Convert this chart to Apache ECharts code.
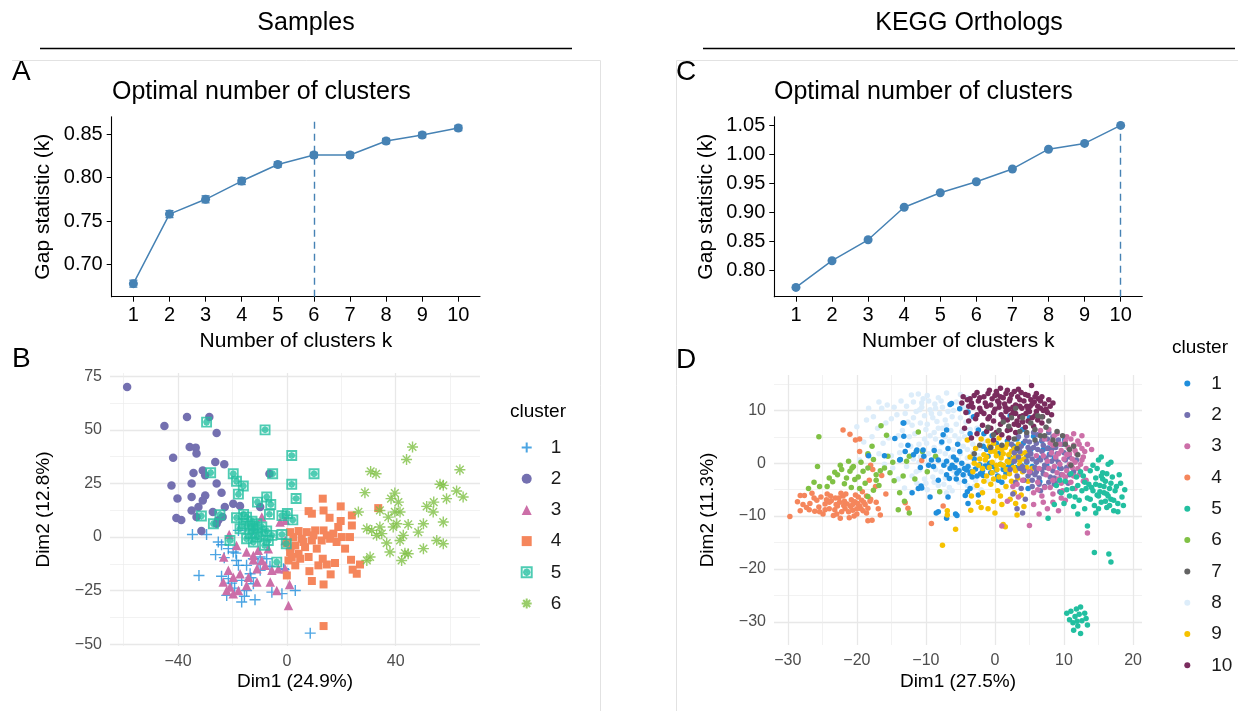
<!DOCTYPE html>
<html>
<head>
<meta charset="utf-8">
<script src="https://cdn.jsdelivr.net/npm/echarts@6/dist/echarts.min.js"></script>
<style>
  html, body { margin: 0; padding: 0; background: #fff; }
  #chart { width: 1238px; height: 711px; }
</style>
</head>
<body>
<div id="chart"></div>
<script>
'use strict';

// ---- gap statistic (panels A and C) ----
var kValues = [1, 2, 3, 4, 5, 6, 7, 8, 9, 10];
var gapSamples = [0.678, 0.758, 0.775, 0.796, 0.815, 0.826, 0.826, 0.842, 0.849, 0.857];
var seSamples = [0.004, 0.004, 0.004, 0.004, 0.003, 0.003, 0.003, 0.003, 0.003, 0.003];
var gapKO = [0.771, 0.817, 0.853, 0.909, 0.934, 0.953, 0.975, 1.009, 1.019, 1.050];
var optimalSamples = 6;
var optimalKO = 10;

var gapTicksSamples = [0.70, 0.75, 0.80, 0.85];
var gapTicksKO = [0.80, 0.85, 0.90, 0.95, 1.00, 1.05];

// ---- PCA of samples (panel B) ----
var samplesCluster1 = [[-34.7,1.2],[-29.5,1.2],[-25.2,-2.3],[-24,-3.6],[-21.5,-5.4],[-19.7,-7],[-26.2,-8.2],[-32.3,-17.9],[-24,-18.3],[-21.5,-19.4],[-18.5,-10.9],[-17.8,-13.2],[-14.8,-13.2],[-12.3,-10.1],[-9.8,-9.3],[-7.4,-10.1],[-13.5,-17.1],[-9.8,-15.5],[-16.6,-20.2],[-12.3,-21.8],[-22.1,-27.2],[-16.6,-30.3],[-11.7,-29.2],[-5.5,-25.7],[-1.8,-26.4],[3.1,-24.9],[-1,-15.2],[8.6,-44.8],[-17.8,3.1],[-12.3,3.4],[-18.7,-7.5],[-20.3,-21.5],[-14.8,-24.9],[-1.2,-14.8],[-15.6,-27.6],[-19.2,-23.8],[-10.6,-12.4],[-6.2,-13.6],[-23.0,-9.6],[-13.2,-19.0]];
var samplesCluster2 = [[-58.7,70],[-45,51.8],[-36.7,56],[-28.5,56],[-25.8,48.5],[-41.8,37],[-35.7,42],[-33.5,41.7],[-33.2,39],[-26.3,35],[-23,34],[-34.3,29.9],[-30.9,31],[-30,28.8],[-42.4,24],[-35,25],[-25.8,25],[-24,20.7],[-40.2,18],[-35,18.7],[-30,19.4],[-30.9,17],[-22.8,14],[-19.7,15.5],[-35,12.4],[-32.5,14],[-27.2,11.7],[-40.6,8.9],[-38.8,8],[-33.2,9.3],[-25.2,7.8],[-23.6,9.3],[-31.4,2.8],[-9.8,14],[-6.4,29.5],[-25.8,6.2],[-17.2,14.5]];
var samplesCluster3 = [[-21.2,1.2],[-9.2,9.3],[-2.5,7],[-23.2,-9.3],[-18.5,-3.9],[-14.8,-7],[-12.3,-8.6],[-10.5,-6.2],[-6.8,-5.4],[-21.5,-15.5],[-19.7,-18.7],[-17.2,-17.1],[-14.1,-18.7],[-11,-14.8],[-8,-13.2],[-5.5,-15.5],[-3.1,-14.8],[-23.4,-21],[-20.9,-23.3],[-17.8,-24.9],[-14.8,-22.6],[-11,-21],[-6.1,-21],[-3.7,-24.9],[0.6,-31.9],[-0.6,-1.6],[-19.7,-26.4],[-22.1,-24.9],[-12.3,-10.6],[-9.2,-10.9],[1.2,-3.9],[-0.6,-14.8],[1,-22.1],[-0.6,7.8]];
var samplesCluster4 = [[13.2,17.9],[19.8,14.3],[8,12.1],[9.2,10.9],[13.5,12.4],[15.7,9],[23.9,10.1],[19.8,7.5],[23.9,5.4],[18.9,4.7],[33.6,13.5],[1.2,2.3],[4.3,2.8],[7.3,2.3],[10.4,3.1],[13.5,3.1],[17.1,1.6],[2.4,0],[5.5,-0.8],[9.2,-1.6],[12.8,-1.6],[15.9,-0.8],[20.2,0],[23.2,0],[0,-2.8],[3.1,-3.9],[6.7,-4.7],[11,-5.4],[21.4,-5.4],[1.2,-7],[4.3,-7.8],[4.9,-10.1],[0.6,-10.9],[3.1,-13.2],[11.6,-13.2],[14.7,-12.8],[17.7,-12.1],[13.2,-10.1],[23.6,-10.6],[26.9,-12.8],[24.2,-15.2],[25.7,-17.1],[8.3,-15.9],[16.1,-17.4],[9.2,-20.5],[13.5,-22.1],[0,-17.9],[13.5,-41.5],[6.1,-2.3],[9.8,0.8],[14.7,0.8],[18.3,-2.3],[1.8,-9.3],[8,-9.3]];
var samplesCluster5 = [[-29.5,53.6],[-8,50],[1.8,38],[1.8,24.6],[3.4,18],[10,29.5],[-28,30],[-19.7,29.5],[-18.5,26],[-16,23.8],[-17.8,20],[-5.2,29.5],[-10.8,16.3],[-7.4,18.7],[-5.9,15.2],[-6.4,10.6],[-1.8,10],[0.2,11],[2.2,8],[-31.4,9.8],[-27,6.2],[-24.6,10.4],[-18.5,9],[-15.9,10.6],[-14.8,9.3],[-15.9,6.2],[-13.5,5.1],[-12.3,3.9],[-11,6.2],[-9.2,4.7],[-7.4,2.8],[-5.5,0.8],[-1.8,1.2],[-13.5,1.6],[-11,0],[-6.8,-1.6],[-20.9,-1.6],[-12.3,-2.3],[-14.8,-0.8],[-3.7,-11.7],[-0.2,-3.1],[-17.2,3.9],[-9.6,1.2],[-8.2,-3.8],[-12.8,7.4]];
var samplesCluster6 = [[46.2,42],[44,36.2],[63.6,31.4],[30.8,30.6],[32.8,29.5],[28.7,20.7],[39.7,20.5],[38.3,17.9],[41,16.3],[26.3,11.7],[34.2,12.4],[39.7,11.7],[37.3,9.3],[40.4,6.2],[44.6,5.9],[48.3,2.3],[51.4,14.3],[54,16.3],[53.8,11.7],[57.5,24.1],[56.3,24.6],[62.4,21.5],[64.8,18.7],[58.7,17.9],[57.5,7],[50.2,6.2],[29.4,3.9],[31.2,3.1],[33,0.8],[34.9,1.6],[36.7,-2.8],[37.9,-7],[41.6,-1.6],[42.8,0.8],[43.4,-7.5],[42.2,-10.9],[44.6,-7.8],[50.2,-5.4],[55.1,-1.6],[57.5,-3.1],[30.6,-9.3],[29.4,-10.9],[34.2,4.7],[39.1,4.7],[41.6,11.7]];

// ---- PCA of KEGG orthologs (panel D) ----
var koCluster1 = [[-13.2,7.6],[-14.5,4.7],[-13.0,2.2],[-13.8,0.6],[-11.4,2.2],[-10.4,2.5],[-9.2,0.6],[-8.9,-0.6],[-7.7,4.0],[-6.5,11.1],[-6.0,1.2],[-5.1,2.2],[-4.8,0],[-4.1,-1.3],[-5.5,-1.9],[-6.5,-1.0],[-7.0,-2.2],[-3.4,-1.6],[-2.2,-0.3],[-0.8,0],[0.2,-1.3],[1.2,-0.6],[2.4,0],[3.6,0.6],[4.6,1.3],[2.7,3.2],[4.1,3.8],[5.6,5.1],[0.2,3.8],[-1,1.3],[-1.7,3.2],[-2.4,6.3],[-3.1,8.8],[-3.9,9.7],[-5.1,10.3],[-7.0,6.3],[-7.5,5.4],[-8.2,-9.2],[-5.5,-9.9],[-11.1,-4.8],[-10.7,-4.3],[-3.6,-4.8],[-4.3,-6.1],[-1.7,-2.3],[0.5,-3.2],[4.8,-4.8],[6.5,-3.5],[7.5,-0.3],[9.4,-0.9],[10.1,4.4],[7.7,2.9],[6.0,0.3],[-6.8,-6.4],[-18.3,1.4],[-16,1.4],[-13.7,0.7],[-11.3,2.5],[-10.3,1.3],[-8.2,0.6],[-8.2,-3.2],[-10.6,-4.7],[-8.5,-9.4],[-7.0,-10.4],[-5.7,-9.6],[-3.9,-7.6],[-6.3,11.3],[-13.3,7.6],[-13.2,5.1],[-5.8,-0.8],[-5.2,-1.4],[-4.6,-2.2],[-3.9,-0.6],[-3.3,-2.6],[-2.8,-1.1],[-2.1,-2.0],[-1.4,-0.5],[-0.6,-1.8],[0.8,-0.2],[1.6,-1.9],[2.2,1.1],[3.0,-0.8],[-6.6,-2.9],[-7.4,-0.4],[-4.4,-3.4],[-3.0,0.8],[5.2,2.6],[6.8,4.2],[7.9,1.7],[3.5,2.4],[-1.2,2.6],[0.6,1.9],
    [-9.6,-0.4],[-10.8,-0.8],[-11.8,1.6],[-12.6,3.4],[-8.8,2.4],[-7.0,0.4],[-6.2,-0.4],[-5.6,0.6],[-4.4,-1.0],[-3.6,-2.0],[-2.6,-2.4],[-1.8,-1.4],[-1.0,-0.8],[-0.2,-0.6],[0.4,-2.4],[1.2,-1.2],[2.0,-0.6],[2.8,0.6],[3.8,-0.4],[4.6,0.2],[5.4,-0.6],[6.4,1.0],[7.0,2.6],[8.6,1.0],[3.2,4.6],[1.8,4.2],[-0.4,5.2],[-1.6,5.6],[-3.6,5.6],[-5.4,3.6],[-6.8,2.8],[-5.6,-3.0],[-4.0,-5.4],[-2.4,-6.0],[1.0,-3.6],[-9.4,-6.4],[-12.0,-5.6],[4.0,6.4],[5.0,8.6],[2.2,9.0]];
var koCluster2 = [[2.4,3.6],[2.8,0.4],[3.2,-2.4],[3.6,2.2],[4.0,-0.6],[4.4,4.2],[4.8,1.4],[5.2,-1.8],[5.6,3.0],[6.0,0.2],[6.4,-2.8],[6.8,2.2],[7.2,-0.4],[7.6,4.6],[8.0,1.6],[8.4,-1.4],[8.8,3.0],[9.2,0.2],[9.6,-2.2],[10.0,2.0],[10.4,-0.8],[10.8,1.2],[11.4,-1.6],[6.2,5.4],[7.8,5.8],[4.6,5.2],[5.4,-4.4],[6.6,-5.2],[3.8,-4.8],[4.4,-6.8],[2.6,-5.8],[3.2,-8.6],[4.0,-9.4],[7.2,-4.4],[8.6,-4.0],[9.4,-5.4],[4.2,-3.2],[5.8,-0.8],[6.8,-1.2],[7.4,1.0],[5.0,2.4],[8.2,2.6],[3.4,1.2],[2.2,-1.2],[9.8,3.6],[6.0,3.8],[7.0,3.4],[4.8,-2.4],[8.0,-2.6],[5.4,0.8],[9.0,-3.2],[10.6,-3.8],[3.0,-3.6],[11.8,0.6],
    [3.8,3.2],[4.6,0.4],[5.2,1.8],[5.8,-2.2],[6.2,2.6],[6.6,0.6],[7.0,-2.0],[7.6,2.8],[8.2,0.4],[8.6,-2.8],[9.0,1.8],[9.6,-1.0],[10.2,0.6],[5.0,4.0],[6.8,4.4],[8.4,5.0],[4.2,-1.4],[5.4,-3.2],[6.4,-4.0],[7.8,-3.6],[3.6,-1.0],[4.8,3.0],[6.0,-1.6],[7.4,-0.8],[8.8,0.8],[10.8,-2.2],[2.8,2.0],[3.4,5.0],[9.2,4.4],[5.6,5.8]];
var koCluster3 = [[2.6,-4.4],[3.4,-6.4],[4.0,-3.2],[5.0,-1.6],[5.6,-5.6],[6.2,-3.6],[6.8,-6.2],[7.4,-2.2],[8.0,-4.6],[8.6,-0.6],[9.2,-3.0],[9.8,-5.2],[10.4,-1.4],[11.0,-3.6],[11.6,0.2],[12.2,-2.2],[12.8,1.2],[13.2,-1.0],[14.0,2.6],[6.6,6.2],[7.2,4.6],[7.8,6.4],[8.4,3.4],[9.0,5.6],[9.6,2.4],[10.2,4.2],[10.8,1.8],[11.4,3.4],[12.0,4.2],[12.6,2.8],[13.4,3.6],[8.8,1.2],[9.4,-0.2],[10.0,0.8],[11.2,-0.8],[12.4,-0.2],[7.6,0.4],[8.2,2.0],[10.6,3.0],[11.8,1.8],[9.8,-2.2],[8.4,-7.4],[7.0,-7.4],[5.6,-7.8],[10.2,-7.0],[9.2,-9.0],[1.0,-11.9],[5.0,-11.8],[13.4,-13.2],[13.2,-3.2],[3.2,-4.0],[1.8,-7.2],[12.6,5.2],[6.0,1.4],[11.4,5.6],
    [6.4,-1.0],[7.2,-4.6],[7.8,-1.0],[8.4,-3.2],[9.0,-1.8],[9.6,-3.8],[10.2,-2.6],[10.8,-0.2],[11.4,-2.4],[12.0,-1.0],[12.6,0.6],[8.0,3.8],[8.6,5.2],[9.4,3.6],[10.4,5.0],[11.0,4.6],[11.6,2.4],[12.2,3.6],[13.0,2.2],[9.2,1.8],[10.4,1.6],[11.2,0.8],[7.0,1.4],[8.4,-5.8],[9.6,-6.6],[6.2,-5.0],[11.6,-4.8],[12.8,-3.4],[7.6,-8.6],[6.4,-9.6]];
var koCluster4 = [[-29.7,-10.1],[-28.6,-7.3],[-28.2,-6.1],[-27.6,-6.1],[-27.3,-8.4],[-26.8,-7.6],[-26.5,-5.7],[-26.1,-9.1],[-25.8,-7.0],[-25.5,-8.3],[-25.2,-6.4],[-24.9,-9.6],[-24.6,-7.7],[-24.3,-5.8],[-24.0,-8.6],[-23.7,-7.1],[-23.4,-9.9],[-23.1,-6.6],[-22.8,-8.1],[-22.5,-7.4],[-22.2,-9.2],[-22.0,-6.2],[-21.7,-8.6],[-21.4,-7.7],[-21.1,-10.3],[-20.8,-6.9],[-20.6,-8.9],[-20.3,-7.3],[-20.0,-9.6],[-19.8,-6.4],[-19.6,-8.1],[-19.3,-7.0],[-19.1,-9.0],[-18.8,-7.8],[-18.6,-6.2],[-18.4,-8.5],[-18.1,-7.2],[-17.8,-10.8],[-18.4,-10.9],[-21.9,-8.0],[-23.0,-7.8],[-20.9,-8.2],[-24.4,-6.9],[-22.3,-5.7],[-19.9,-7.6],[-26.9,-8.8],[-22,6.3],[-21,5.5],[-20.2,4.4],[-19.6,4.6],[-19.6,2.2],[-18.4,1.5],[-18,-0.4],[-17.7,-1.2],[-16.4,-2.3],[-18.2,-3.2],[-17.3,-4.4],[-15.8,-5.8],[-16.9,-8.6],[-12.6,-8.5],[-13.0,-7.5],[-9.2,-11.4],[-10.6,0.5],[-7.5,-8.1],
    [-24.0,-7.4],[-23.2,-8.8],[-22.6,-6.6],[-21.8,-7.2],[-21.2,-9.2],[-20.6,-7.8],[-20.2,-6.0],[-19.4,-8.6],[-19.0,-7.4],[-18.6,-9.4],[-22.4,-10.4],[-25.4,-9.2],[-26.2,-6.6],[-27.8,-7.8],[-28.2,-9.0],[-23.8,-6.2],[-22.9,-9.6],[-20.4,-10.0],[-18.0,-6.8],[-21.6,-5.8],[-19.2,-5.4],[-24.6,-8.8],[-17.2,-7.4],[-16.6,-9.8],[-20.0,-8.6]];
var koCluster5 = [[8.9,-4.2],[9.6,-5.6],[10.2,-3.4],[10.8,-6.2],[11.2,-4.8],[11.8,-2.6],[12.2,-7.0],[12.6,-5.2],[13.0,-3.6],[13.4,-6.6],[13.8,-1.4],[14.0,-4.6],[14.4,-8.0],[14.6,-2.8],[14.8,-6.0],[15.0,0.6],[15.2,-4.2],[15.4,-7.4],[15.6,-1.8],[15.8,-5.6],[16.0,-3.4],[16.2,-8.4],[16.4,-0.2],[16.6,-4.8],[16.8,-6.8],[17.0,-2.6],[17.4,-5.2],[17.8,-7.6],[18.2,-3.8],[18.8,-5.0],[14.2,-5.2],[15.0,-6.2],[15.6,-3.0],[16.2,-5.8],[13.6,-4.0],[12.4,-1.6],[11.4,-8.2],[10.0,-7.6],[8.6,-7.8],[7.7,-10.4],[13.4,-11.9],[14.4,-16.9],[16.5,-17.2],[16.8,-18.7],[12.0,-9.6],[17.2,-9.0],
    [14.6,-4.0],[15.2,-5.4],[15.8,-4.4],[16.4,-6.2],[16.0,-7.2],[15.4,-2.4],[14.8,-1.0],[16.8,-3.8],[17.2,-7.0],[17.6,-4.4],[18.4,-6.4],[18.0,-2.2],[16.2,-2.0],[15.0,-8.6],[13.8,-6.8],[13.2,-4.8],[12.8,-2.4],[12.0,-4.2],[11.0,-2.0],[10.4,-5.0],[9.4,-3.2],[14.2,-0.4],[16.8,0.2],[15.4,1.2],[17.8,-9.2],[16.6,-8.0],[13.0,-8.6],[11.6,-6.4],[18.6,-8.0],[14.6,-9.4],
    [10.4,-28.4],[10.8,-29.6],[11.0,-28.0],[11.3,-30.2],[11.6,-29.0],[11.8,-27.6],[12.0,-30.8],[12.2,-28.6],[12.4,-27.2],[12.6,-29.8],[13.0,-28.4],[13.4,-30.6],[13.2,-29.4],[11.4,-31.6],[12.4,-32.2],[11.9,-29.9]];
var koCluster6 = [[-25.5,5.0],[-25.7,-0.6],[-27,-4.8],[-25.4,-4.4],[-24.3,-4.4],[-23.5,-3.5],[-23.2,-1.7],[-22.2,-1.2],[-21,-1.5],[-21.5,-2.8],[-20.3,-3.1],[-20.5,-0.6],[-19.1,-1.5],[-18.4,1.8],[-18.4,-0.9],[-17.2,-2.2],[-17.6,0.7],[-17.2,-3.2],[-16,-0.9],[-15.7,5.3],[-15.5,1.3],[-17.6,-5.1],[-19.6,-4.8],[-18.4,-6.3],[-16.5,7.1],[-11.1,5.9],[-12.4,1.3],[-12.8,0.4],[-13.3,-2.4],[-14,-8.8],[-12.4,-9.4],[-13.1,-7.2],[-8.6,1.3],[-8,-5.4],[-20.7,-0.9],[-22.8,-2.2],[-16.8,-4.2],[-14.6,-3.3],[-15.2,-1.8],[-19.8,-2.6],[-21.8,-3.9],[-9.8,-1.6],[-10.5,2.2],
    [-24.0,-2.8],[-22.4,-0.4],[-21.2,0.4],[-19.4,0.2],[-18.8,-3.8],[-16.6,-1.4],[-14.8,0.2],[-13.8,-5.6],[-20.8,-4.6],[-26.2,-3.6],[-17.8,3.2],[-11.6,-3.0]];
var koCluster7 = [[1.2,7.8],[2.4,8.6],[3.6,6.0],[5.2,7.6],[6.2,9.0],[7.4,6.8],[8.4,4.4],[9.0,6.0],[10.2,3.6],[11.4,3.2],[12.0,1.6],[4.6,5.8],[6.6,5.2],[2.8,4.6],[-1.0,6.8],[-2.2,3.4],[-3.0,1.8],[0.6,6.2],[7.8,8.0],[3.0,10.4],[-0.6,3.0],[11.0,-0.4],[5.8,6.4],
    [2.0,7.0],[4.0,8.6],[5.8,4.4],[7.2,5.2],[8.8,3.6],[9.8,5.2],[10.8,2.6],[3.2,2.8],[1.0,3.4],[-0.2,5.4],[6.8,8.8]];
var koCluster8 = [[-18.3,10.4],[-16.4,10.4],[-15.6,11.0],[-14.2,9.2],[-12.1,12.9],[-11.1,13.1],[-7.0,13.3],[-20,6.9],[-19.6,0.6],[-17.0,6.6],[-16.2,3.8],[-15.0,8.4],[-14.8,-0.9],[-13.1,-4.7],[-11.3,-3.8],[-10.9,-1.3],[-9.9,3.8],[-10.9,10.1],[-9.4,10.1],[-8.7,11.2],[-8.0,9.4],[-9.0,8.6],[-10.2,9.0],[-7.6,10.6],[-6.8,9.8],[-8.4,7.9],[-9.6,11.8],[-10.6,11.4],[-7.2,8.2],[-6.2,8.8],[-11.8,8.6],[-12.6,7.8],[-13.4,6.2],[-11.6,5.6],[-10.0,6.4],[-8.8,5.8],[-7.6,6.6],[-6.4,6.2],[-5.6,7.4],[-4.8,6.0],[-5.2,4.6],[-6.6,4.2],[-7.8,3.8],[-8.8,3.0],[-9.6,1.8],[-8.4,0.8],[-7.2,1.8],[-6.0,2.6],[-4.6,3.2],[-3.8,4.4],[-3.2,2.0],[-4.0,1.0],[-5.4,0.6],[-6.8,-0.2],[-7.8,-1.6],[-9.0,-2.6],[-10.2,-3.0],[-8.2,-4.2],[-6.6,-4.6],[-5.2,-3.6],[-4.0,-4.2],[-2.8,-3.2],[-2.4,1.4],[-1.6,4.2],[-2.6,6.6],[-3.4,8.6],[-4.4,10.6],[-5.6,11.6],[-12.2,3.2],[-13.8,2.0],[-15.4,4.8],[-17.6,8.8],[-12.0,-2.4],[-11.0,0.2],[-9.8,-5.0],[-7.0,-5.6],[-16.0,-0.2],[-14.0,-3.0],[-2.0,-5.0],[-1.0,-3.4],
    [-10.4,12.2],[-9.8,12.8],[-8.2,12.4],[-7.8,11.8],[-9.2,9.4],[-8.6,10.4],[-10.6,10.6],[-11.4,9.8],[-11.8,11.6],[-12.8,10.8],[-13.6,11.8],[-14.6,10.6],[-13.0,9.4],[-12.0,7.2],[-10.8,7.6],[-9.8,7.4],[-9.4,5.2],[-8.2,6.6],[-7.0,7.2],[-6.0,10.0],[-5.0,8.6],[-4.2,7.8],[-3.6,6.4],[-4.4,5.0],[-5.8,5.2],[-7.2,5.0],[-8.0,2.2],[-9.0,0.6],[-7.6,0.2],[-6.4,1.2],[-5.0,1.8],[-4.0,2.6],[-3.2,3.6],[-2.2,2.8],[-2.0,-0.8],[-3.4,-1.2],[-4.8,-0.8],[-6.0,-1.4],[-7.2,-2.8],[-8.6,-1.2],[-9.8,-0.2],[-10.8,1.2],[-11.8,0.8],[-12.8,-0.6],[-11.4,-1.6],[-10.0,-3.8],[-8.8,-3.6],[-7.4,-4.0],[-5.8,-2.6],[-4.4,-2.4],[-3.0,-4.4],[-6.2,-5.2],[-15.0,1.4],[-16.8,1.8],[-17.8,5.0],[-15.8,7.6],[-14.0,5.2],[-13.6,3.4],[-12.4,5.0],[-11.0,3.6],[-10.2,4.6],[-8.6,4.6],[-19.0,4.0],[-18.6,8.2],[-16.8,11.6],[-5.0,13.0],[-4.0,12.4]];
var koCluster9 = [[-7.6,-15.5],[-5.7,-12.5],[-6.9,-9.0],[-6.9,-9.8],[-3.5,-8.9],[1.2,-11.6],[3.2,-9.8],[1.5,-12.0],[-4.0,4.4],[-3.6,1.2],[-3.2,-1.6],[-2.8,2.8],[-2.4,-0.4],[-2.0,4.6],[-1.6,1.6],[-1.2,-2.4],[-0.8,3.2],[-0.4,0.2],[0,2.2],[0.3,-1.2],[0.6,4.8],[0.9,1.0],[1.2,-0.4],[1.5,3.0],[1.8,0.4],[2.1,-2.0],[2.4,2.2],[2.7,-0.8],[3.0,1.4],[3.3,-2.8],[3.6,0.6],[4.0,-1.6],[4.4,2.0],[4.8,-3.4],[5.4,-1.0],[-0.6,-4.0],[0.4,-5.2],[1.6,-4.4],[2.8,-5.6],[-1.8,-5.6],[-2.6,-4.2],[-3.4,-6.2],[-0.2,-7.2],[1.0,-7.8],[2.2,-6.8],[3.8,-6.0],[-1.0,-8.6],[0.2,1.4],[1.0,2.6],[-0.4,-1.8],[2.0,1.6],[0.6,-2.6],[-1.4,0.6],[3.4,3.6],[-2.4,-7.4],[4.2,-8.2],
    [-1.8,-1.0],[-1.2,1.2],[-0.6,2.2],[-0.2,3.8],[0.4,3.0],[0.8,-0.2],[1.2,1.8],[1.6,-1.2],[2.0,0.2],[2.6,0.8],[3.0,-1.4],[3.6,-0.2],[4.2,0.8],[4.6,-0.8],[0.2,-0.4],[-0.8,-0.8],[-2.2,0.8],[-3.0,0.0],[-1.0,4.2],[1.8,3.6],[2.8,2.8],[3.8,1.8],[1.4,-2.6],[2.4,-3.4],[-0.2,-3.0],[-1.6,-3.4],[0.8,-6.2],[-2.0,-8.4],[3.0,-7.6],[0.0,-9.4]];
var koCluster10 = [[5.3,14.7],[-4.8,11.4],[-4.2,9.6],[-3.6,12.2],[-3.2,10.6],[-2.8,8.4],[-2.4,11.8],[-2.0,9.8],[-1.6,12.6],[-1.2,10.8],[-0.8,8.8],[-0.4,12.2],[0,10.2],[0.3,13.0],[0.6,11.4],[0.9,9.2],[1.2,12.4],[1.5,10.6],[1.8,8.2],[2.1,11.8],[2.4,13.0],[2.7,9.8],[3.0,11.0],[3.3,12.6],[3.6,8.8],[3.9,10.4],[4.2,11.8],[4.5,9.4],[4.8,12.8],[5.1,10.8],[5.4,8.6],[5.7,11.6],[6.0,9.8],[6.3,12.2],[6.6,10.4],[6.9,8.8],[7.2,11.2],[7.6,9.6],[8.0,10.8],[-1.8,7.2],[-0.6,6.6],[0.8,7.4],[2.2,6.4],[3.4,7.2],[4.4,6.8],[1.0,5.4],[-2.6,5.6],[-4.4,6.6],[-3.4,4.8],[-0.2,4.4],[2.0,4.8],[0.2,13.6],[-1.0,13.2],[1.8,13.8],[3.8,13.4],[4.0,7.8],[-2.2,10.4],[0.4,11.8],[2.6,10.6],[5.0,9.8],[6.6,11.8],[-3.8,10.8],[-0.2,9.6],[1.4,11.2],[3.0,9.4],[4.6,10.8],[5.8,12.6],[7.8,12.0],[-4.6,12.6],
    [-3.0,12.8],[-2.6,13.4],[-1.4,11.4],[-0.8,13.8],[0.0,12.8],[0.8,12.6],[1.6,13.2],[2.2,12.2],[2.8,13.6],[3.6,12.0],[4.4,13.0],[5.2,12.0],[6.0,13.2],[6.8,12.6],[7.4,10.2],[6.2,10.8],[5.4,11.2],[4.8,10.2],[4.0,9.0],[3.2,8.0],[2.4,9.2],[1.6,9.8],[0.6,10.6],[-0.6,11.0],[-1.6,9.4],[-2.6,9.2],[-3.4,11.4],[-4.0,12.0],[-0.2,8.0],[1.2,8.6],[2.8,7.4],[4.8,8.0],[6.2,8.2],[7.0,10.0],[8.4,11.4],[8.2,9.2],[-1.2,6.0],[0.2,5.8],[1.8,6.2],[3.0,5.8],[5.6,7.0],[6.8,7.6],[-2.2,12.4],[0.8,14.2],[3.4,14.0],[-3.8,8.0],[-1.0,8.4],[2.0,10.2],[3.6,10.8],[5.8,9.0]];

var samplesClusters = [samplesCluster1, samplesCluster2, samplesCluster3, samplesCluster4, samplesCluster5, samplesCluster6];
var koClusters = [koCluster1, koCluster2, koCluster3, koCluster4, koCluster5, koCluster6, koCluster7, koCluster8, koCluster9, koCluster10];

var clusterColors = ['#1F8EDC', '#7470B0', '#CC6FA8', '#F5865C', '#22BFA0', '#80C145', '#636363', '#DDEDFA', '#F6C200', '#7A2C5E'];

// axis ticks for the PCA panels
var bTicksX = [-40, 0, 40], bMinorX = [-60, -20, 20, 60];
var bTicksY = [-50, -25, 0, 25, 50, 75], bMinorY = [-37.5, -12.5, 12.5, 37.5, 62.5];
var dTicksX = [-30, -20, -10, 0, 10, 20], dMinorX = [-25, -15, -5, 5, 15];
var dTicksY = [-30, -20, -10, 0, 10], dMinorY = [-25, -15, -5, 5, 15];

var FONT = '"Liberation Sans", Arial, Helvetica, sans-serif';
var BLUE = '#4682B4';

function minus(v) { return v < 0 ? '\u2212' + Math.abs(v) : String(v); }

// ggplot-style shapes (plus, circle, triangle, square, boxed cross, asterisk)
var shapePlus = 'path://M0,5L10,5M5,0L5,10';
var shapeBoxCross = 'path://M0,0L10,0L10,10L0,10Z M5,2.2L7,3L7.8,5L7,7L5,7.8L3,7L2.2,5L3,3Z M3.2,3.2L6.8,6.8M3.2,6.8L6.8,3.2';
var shapeStar = 'path://M0,5L10,5M5,0L5,10M1.5,1.5L8.5,8.5M1.5,8.5L8.5,1.5';
var samplesShapes = [
    { symbol: shapePlus, size: 11, stroke: true },
    { symbol: 'circle', size: 8.5 },
    { symbol: 'triangle', size: 9.5 },
    { symbol: 'rect', size: 8 },
    { symbol: shapeBoxCross, size: 9, stroke: true },
    { symbol: shapeStar, size: 11, stroke: true }
];

function gapX(gridIndex) {
    return {
        type: 'value', gridIndex: gridIndex, min: 0.4, max: 10.6,
        name: 'Number of clusters k', nameLocation: 'middle', nameGap: 34,
        nameTextStyle: { fontSize: 21, color: '#000', fontFamily: FONT },
        axisLine: { onZero: false, lineStyle: { color: '#000', width: 1.1 } },
        axisTick: { customValues: kValues, length: 5, lineStyle: { color: '#000' } },
        axisLabel: { customValues: kValues, fontSize: 20, color: '#000', margin: 9, fontFamily: FONT },
        splitLine: { show: false }
    };
}
function gapY(gridIndex, lo, hi, ticks) {
    return {
        type: 'value', gridIndex: gridIndex, min: lo, max: hi,
        name: 'Gap statistic (k)', nameLocation: 'middle', nameGap: 58,
        nameTextStyle: { fontSize: 21, color: '#000', fontFamily: FONT },
        axisLine: { show: true, onZero: false, lineStyle: { color: '#000', width: 1.1 } },
        axisTick: { show: true, customValues: ticks, length: 5, lineStyle: { color: '#000' } },
        axisLabel: { customValues: ticks, fontSize: 20, color: '#000', margin: 9, fontFamily: FONT,
            formatter: function (v) { return v.toFixed(2); } },
        splitLine: { show: false }
    };
}
function pcaAxis(gridIndex, lo, hi, ticks, name, gap) {
    return {
        type: 'value', gridIndex: gridIndex, min: lo, max: hi,
        name: name, nameLocation: 'middle', nameGap: gap,
        nameTextStyle: { fontSize: 19, color: '#000', fontFamily: FONT },
        axisLine: { show: false, onZero: false },
        axisTick: { show: false, customValues: ticks },
        axisLabel: { customValues: ticks, fontSize: 16, color: '#4D4D4D', margin: 8, fontFamily: FONT, formatter: minus },
        splitLine: { show: true, lineStyle: { color: '#E8E8E8', width: 1.3 } }
    };
}
function minorAxis(gridIndex, lo, hi, ticks) {
    return {
        type: 'value', gridIndex: gridIndex, min: lo, max: hi,
        axisLine: { show: false, onZero: false },
        axisTick: { show: false, customValues: ticks },
        axisLabel: { show: false },
        splitLine: { show: true, lineStyle: { color: '#EDEDED', width: 0.7 } }
    };
}

var series = [];

// A: gap statistic for samples
series.push({
    type: 'line', xAxisIndex: 0, yAxisIndex: 0,
    data: kValues.map(function (k, i) { return [k, gapSamples[i]]; }),
    symbol: 'circle', symbolSize: 9,
    lineStyle: { color: BLUE, width: 1.5 }, itemStyle: { color: BLUE },
    markLine: {
        silent: true, symbol: ['none', 'none'], label: { show: false },
        lineStyle: { color: BLUE, type: [7, 5], width: 1.4 },
        data: [{ xAxis: optimalSamples }]
    }
});
series.push({
    type: 'custom', xAxisIndex: 0, yAxisIndex: 0,
    data: kValues.map(function (k, i) { return [k, gapSamples[i] - seSamples[i], gapSamples[i] + seSamples[i]]; }),
    renderItem: function (params, api) {
        var lo = api.coord([api.value(0), api.value(1)]);
        var hi = api.coord([api.value(0), api.value(2)]);
        var hw = 4;
        var st = { stroke: BLUE, lineWidth: 1.3 };
        return {
            type: 'group', children: [
                { type: 'line', shape: { x1: lo[0], y1: lo[1], x2: hi[0], y2: hi[1] }, style: st },
                { type: 'line', shape: { x1: lo[0] - hw, y1: lo[1], x2: lo[0] + hw, y2: lo[1] }, style: st },
                { type: 'line', shape: { x1: hi[0] - hw, y1: hi[1], x2: hi[0] + hw, y2: hi[1] }, style: st }
            ]
        };
    }
});

// C: gap statistic for KEGG orthologs
series.push({
    type: 'line', xAxisIndex: 1, yAxisIndex: 1,
    data: kValues.map(function (k, i) { return [k, gapKO[i]]; }),
    symbol: 'circle', symbolSize: 9,
    lineStyle: { color: BLUE, width: 1.5 }, itemStyle: { color: BLUE },
    markLine: {
        silent: true, symbol: ['none', 'none'], label: { show: false },
        lineStyle: { color: BLUE, type: [7, 5], width: 1.4 },
        data: [{ xAxis: optimalKO }]
    }
});

// B: samples PCA
samplesClusters.forEach(function (pts, i) {
    var sh = samplesShapes[i];
    var col = clusterColors[i];
    series.push({
        type: 'scatter', name: 'B' + (i + 1), xAxisIndex: 2, yAxisIndex: 2,
        data: pts, symbol: sh.symbol, symbolSize: sh.size,
        itemStyle: sh.stroke
            ? { color: 'rgba(0,0,0,0)', borderColor: col, borderWidth: i === 4 ? 1.9 : 1.4 }
            : { color: col, opacity: 1 }
    });
});

// D: KEGG ortholog PCA (light cluster 8 drawn first, grey cluster 7 last)
[8, 4, 6, 1, 9, 2, 3, 5, 10, 7].forEach(function (c) {
    series.push({
        type: 'scatter', name: 'D' + c, xAxisIndex: 4, yAxisIndex: 4,
        data: koClusters[c - 1], symbol: 'circle', symbolSize: 5.5,
        itemStyle: { color: clusterColors[c - 1], opacity: 1 }
    });
});

var bNames = [1, 2, 3, 4, 5, 6].map(function (n) { return 'B' + n; });
var dNames = [1, 2, 3, 4, 5, 6, 7, 8, 9, 10].map(function (n) { return 'D' + n; });

function txt(text, x, y, size, align, color) {
    return {
        type: 'text', x: x, y: y, silent: true,
        style: { text: text, font: size + 'px ' + FONT, fill: color || '#000',
            align: align || 'left', verticalAlign: 'middle',
            textAlign: align || 'left', textVerticalAlign: 'middle' }
    };
}
function ln(x1, y1, x2, y2, color, w) {
    return { type: 'line', silent: true, shape: { x1: x1, y1: y1, x2: x2, y2: y2 },
        style: { stroke: color, lineWidth: w } };
}

var option = {
    animation: false,
    backgroundColor: '#fff',
    textStyle: { fontFamily: FONT },
    grid: [
        { left: 111.7, top: 116.7, width: 368.3, height: 180 },
        { left: 774.3, top: 116.7, width: 368, height: 180 },
        { left: 110, top: 373, width: 370, height: 273 },
        { left: 774, top: 375, width: 368, height: 270 }
    ],
    xAxis: [
        gapX(0),
        gapX(1),
        pcaAxis(2, -65, 71, bTicksX, 'Dim1 (24.9%)', 26),
        minorAxis(2, -65, 71, bMinorX),
        pcaAxis(3, -32, 21.3, dTicksX, 'Dim1 (27.5%)', 27),
        minorAxis(3, -32, 21.3, dMinorX)
    ],
    yAxis: [
        gapY(0, 0.663, 0.870, gapTicksSamples),
        gapY(1, 0.755, 1.065, gapTicksKO),
        pcaAxis(2, -50.8, 76.5, bTicksY, 'Dim2 (12.8%)', 57),
        minorAxis(2, -50.8, 76.5, bMinorY),
        pcaAxis(3, -34.4, 16.7, dTicksY, 'Dim2 (11.3%)', 57),
        minorAxis(3, -34.4, 16.7, dMinorY)
    ],
    legend: [
        {
            data: bNames, orient: 'vertical', left: 515.7, top: 433,
            itemWidth: 10, itemHeight: 10, itemGap: 12.2, selectedMode: false,
            formatter: function (n) { return n.slice(1); },
            textStyle: { fontSize: 19, color: '#1A1A1A', fontFamily: FONT, padding: [0, 0, 0, 14] }
        },
        {
            data: dNames, orient: 'vertical', left: 1179.3, top: 369.1,
            itemWidth: 6, itemHeight: 6, itemGap: 12.3, selectedMode: false, icon: 'circle',
            formatter: function (n) { return n.slice(1); },
            textStyle: { fontSize: 19, color: '#1A1A1A', fontFamily: FONT, padding: [0, 0, 0, 16] }
        }
    ],
    graphic: [
        txt('Samples', 306, 23, 25, 'center'),
        ln(40, 48.5, 572, 48.5, '#000', 1.3),
        txt('KEGG Orthologs', 969, 23, 25, 'center'),
        ln(703, 48.5, 1235, 48.5, '#000', 1.3),
        ln(12, 60.5, 600.5, 60.5, '#E2E2E2', 1),
        ln(600.5, 60.5, 600.5, 711, '#E2E2E2', 1),
        ln(676.5, 60.5, 1238, 60.5, '#E2E2E2', 1),
        ln(676.5, 60.5, 676.5, 711, '#E2E2E2', 1),
        txt('A', 12, 72, 28),
        txt('B', 12, 359, 28),
        txt('C', 676, 72, 28),
        txt('D', 676, 360, 28),
        txt('Optimal number of clusters', 112, 92, 25),
        txt('Optimal number of clusters', 774, 92, 25),
        txt('cluster', 510, 412, 19),
        txt('cluster', 1172, 348, 19)
    ],
    series: series
};

var chart = echarts.init(document.getElementById('chart'), null, { renderer: 'canvas' });
chart.setOption(option);
</script>
</body>
</html>
